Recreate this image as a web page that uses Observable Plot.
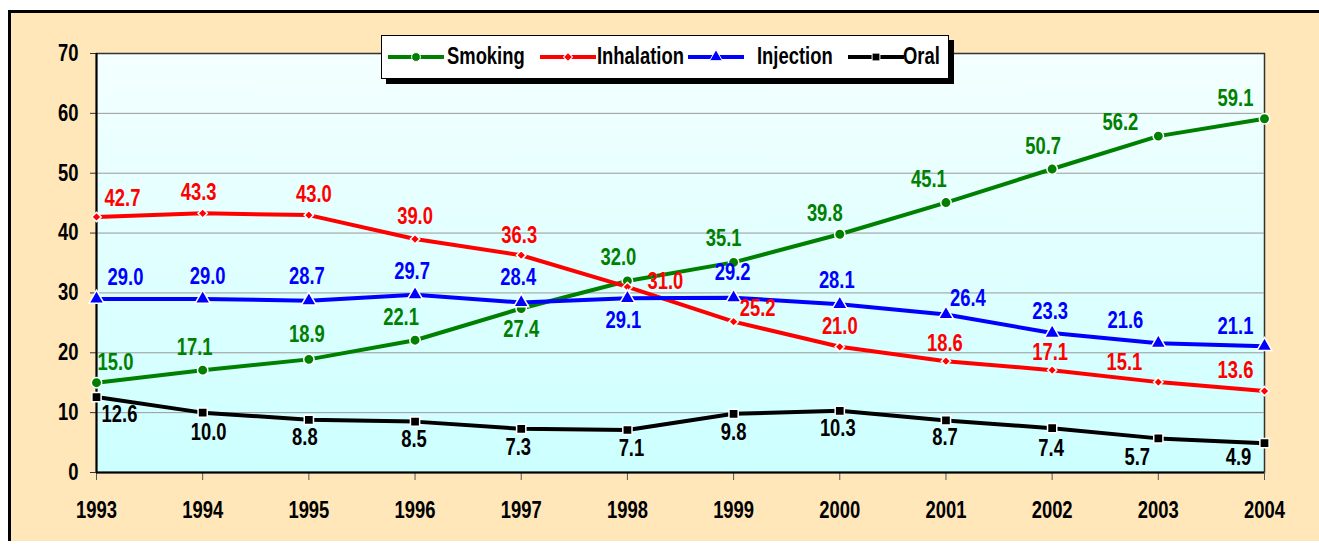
<!DOCTYPE html>
<html>
<head>
<meta charset="utf-8">
<script src="https://cdn.jsdelivr.net/npm/d3@7"></script>
<script src="https://cdn.jsdelivr.net/npm/@observablehq/plot@0.6"></script>
<style>
  html, body { margin: 0; padding: 0; background: #fff; }
  #wrap { position: relative; width: 1319px; height: 544px; overflow: hidden; }
  #frame { position: absolute; left: 8px; top: 10px; width: 1400px; height: 528px;
           background: #FFE7BA; border-left: 3px solid #000; border-top: 3px solid #000; }
  #chart { position: absolute; left: 0; top: 0; }
  #legend { position: absolute; left: 381px; top: 35px; width: 568px; height: 44px; box-sizing: border-box;
            background: #fff; border: 1px solid #000; box-shadow: 5px 5px 0 #000;
            font-family: "Liberation Sans", Arial, sans-serif;
            font-weight: bold; font-size: 23px; color: #000; }
  .sw { position: absolute; top: 13px; }
  .lt { position: absolute; top: 7px; line-height: 26px; white-space: nowrap;
        transform: scaleX(0.8); transform-origin: 0 50%; }
</style>
</head>
<body>
<div id="wrap">
  <div id="frame"></div>
  <div id="chart"></div>
  <div id="legend"></div>
</div>
<script>
// ---- data ----
const years = [1993, 1994, 1995, 1996, 1997, 1998, 1999, 2000, 2001, 2002, 2003, 2004];
const smoking    = [15.0, 17.1, 18.9, 22.1, 27.4, 32.0, 35.1, 39.8, 45.1, 50.7, 56.2, 59.1];
const inhalation = [42.7, 43.3, 43.0, 39.0, 36.3, 31.0, 25.2, 21.0, 18.6, 17.1, 15.1, 13.6];
const injection  = [29.0, 29.0, 28.7, 29.7, 28.4, 29.1, 29.2, 28.1, 26.4, 23.3, 21.6, 21.1];
const oral       = [12.6, 10.0, 8.8, 8.5, 7.3, 7.1, 9.8, 10.3, 8.7, 7.4, 5.7, 4.9];
const seriesNames = ["Smoking", "Inhalation", "Injection", "Oral"];
const yTicks = [0, 10, 20, 30, 40, 50, 60, 70];

// ---- styling / layout (not data) ----
const seriesValues = [smoking, inhalation, injection, oral];
const seriesColors = ["#008000", "#FF0000", "#0000FF", "#000000"];
const seriesSymbols = ["circle", "diamond2", "triangle", "square"];
const symbolR = [5.2, 4.2, 5.6, 5.2];
// label offsets in pixels [dx, dy] for each point
const labelOffsets = [
  [[19,-20],[-8,-23],[-2,-25],[-14,-23],[0,21],[-9,-23],[-10,-24],[-15,-21],[-17,-23],[-9,-22],[-38,-13],[-29,-20]],
  [[26,-18],[-4,-21],[5,-20],[0,-22],[-2,-20],[38,-5],[24,-13],[0,-20],[-1,-18],[-2,-18],[-34,-19],[-29,-20]],
  [[29,-21],[5,-22],[-2,-24],[-3,-23],[-3,-25],[-4,22],[-1,-25],[-3,-24],[22,-16],[-2,-21],[-33,-23],[-29,-20]],
  [[23,18],[6,20],[-4,18],[-1,18],[-3,19],[4,19],[0,19],[-2,18],[-1,17],[-1,20],[-21,19],[-26,14]]
];
// legend placement inside its box (swatch left, text left)
const legendSwatchX = [6, 158, 306, 466];
const legendTextX = [65, 215, 375, 521];
const FONT = '"Liberation Sans", Arial, sans-serif';
const FS = 23;
const NARROW = 0.8;

const marks = [
  Plot.frame({fill: "url(#bgGrad)", stroke: "#333", strokeWidth: 1.5}),
  Plot.gridY(yTicks.filter(t => t > 0 && t < 70), {stroke: "#999", strokeOpacity: 1, strokeWidth: 1}),
  Plot.axisY({ticks: yTicks, label: null, tickSize: 6, tickPadding: 12, stroke: "#333", fill: "#000",
              fontSize: FS, fontWeight: "bold", fontFamily: FONT}),
  Plot.axisX({ticks: years, label: null, tickSize: 8, tickPadding: 21, stroke: "#555", fill: "#000",
              tickFormat: d => String(d), fontSize: FS, fontWeight: "bold", fontFamily: FONT}),
  Plot.ruleY([0], {stroke: "#000", strokeWidth: 2}),
  Plot.ruleX([years[0]], {stroke: "#000", strokeWidth: 2})
];

seriesValues.forEach((vals, s) => {
  const data = years.map((yr, i) => ({year: yr, value: vals[i]}));
  marks.push(Plot.line(data, {x: "year", y: "value", stroke: seriesColors[s], strokeWidth: 4}));
  marks.push(Plot.dot(data, {x: "year", y: "value", symbol: seriesSymbols[s], r: symbolR[s],
                             fill: seriesColors[s], stroke: "#fff", strokeWidth: 1.5}));
});
seriesValues.forEach((vals, s) => {
  years.forEach((yr, i) => {
    marks.push(Plot.text([{year: yr, value: vals[i]}], {
      x: "year", y: "value", text: d => d.value.toFixed(1),
      dx: labelOffsets[s][i][0], dy: labelOffsets[s][i][1],
      fill: seriesColors[s], fontSize: FS, fontWeight: "bold", fontFamily: FONT,
      textAnchor: "middle", lineAnchor: "middle"
    }));
  });
});

const svg = Plot.plot({
  width: 1319, height: 544,
  marginLeft: 96, marginRight: 55, marginTop: 53, marginBottom: 72,
  x: {domain: [years[0], years[years.length - 1]]},
  y: {domain: [0, 70]},
  style: {background: "transparent", fontFamily: FONT, fontWeight: "bold", fontSize: FS + "px", color: "#000"},
  marks
});
const defs = d3.select(svg).insert("defs", ":first-child");
const grad = defs.append("linearGradient").attr("id", "bgGrad")
  .attr("x1", 0).attr("y1", 0).attr("x2", 0).attr("y2", 1);
grad.append("stop").attr("offset", "0%").attr("stop-color", "#F4FFFF");
grad.append("stop").attr("offset", "100%").attr("stop-color", "#CCFFFF");

// condense all text horizontally around its anchor (Arial Narrow look)
svg.querySelectorAll("text").forEach(t => {
  const x = +t.getAttribute("x") || 0;
  const tr = t.getAttribute("transform") || "";
  t.setAttribute("transform", `${tr} translate(${x},0) scale(${NARROW},1) translate(${-x},0)`);
});
document.getElementById("chart").appendChild(svg);

// ---- legend ----
const legend = d3.select("#legend");
const symMap = {circle: d3.symbolCircle, diamond2: d3.symbolSquare, triangle: d3.symbolTriangle, square: d3.symbolSquare};
seriesNames.forEach((name, s) => {
  const sw = legend.append("svg").attr("class", "sw").attr("width", 56).attr("height", 16)
    .style("left", legendSwatchX[s] + "px");
  sw.append("line").attr("x1", 0).attr("x2", 56).attr("y1", 8).attr("y2", 8)
    .attr("stroke", seriesColors[s]).attr("stroke-width", 4);
  const rr = symbolR[s] * 0.85;
  sw.append("path")
    .attr("d", d3.symbol(symMap[seriesSymbols[s]], Math.PI * rr * rr)())
    .attr("transform", "translate(28,8)" + (seriesSymbols[s] === "diamond2" ? " rotate(45)" : ""))
    .attr("fill", seriesColors[s]).attr("stroke", "#fff").attr("stroke-width", 1);
  legend.append("span").attr("class", "lt").style("left", legendTextX[s] + "px").text(name);
});
</script>
</body>
</html>
